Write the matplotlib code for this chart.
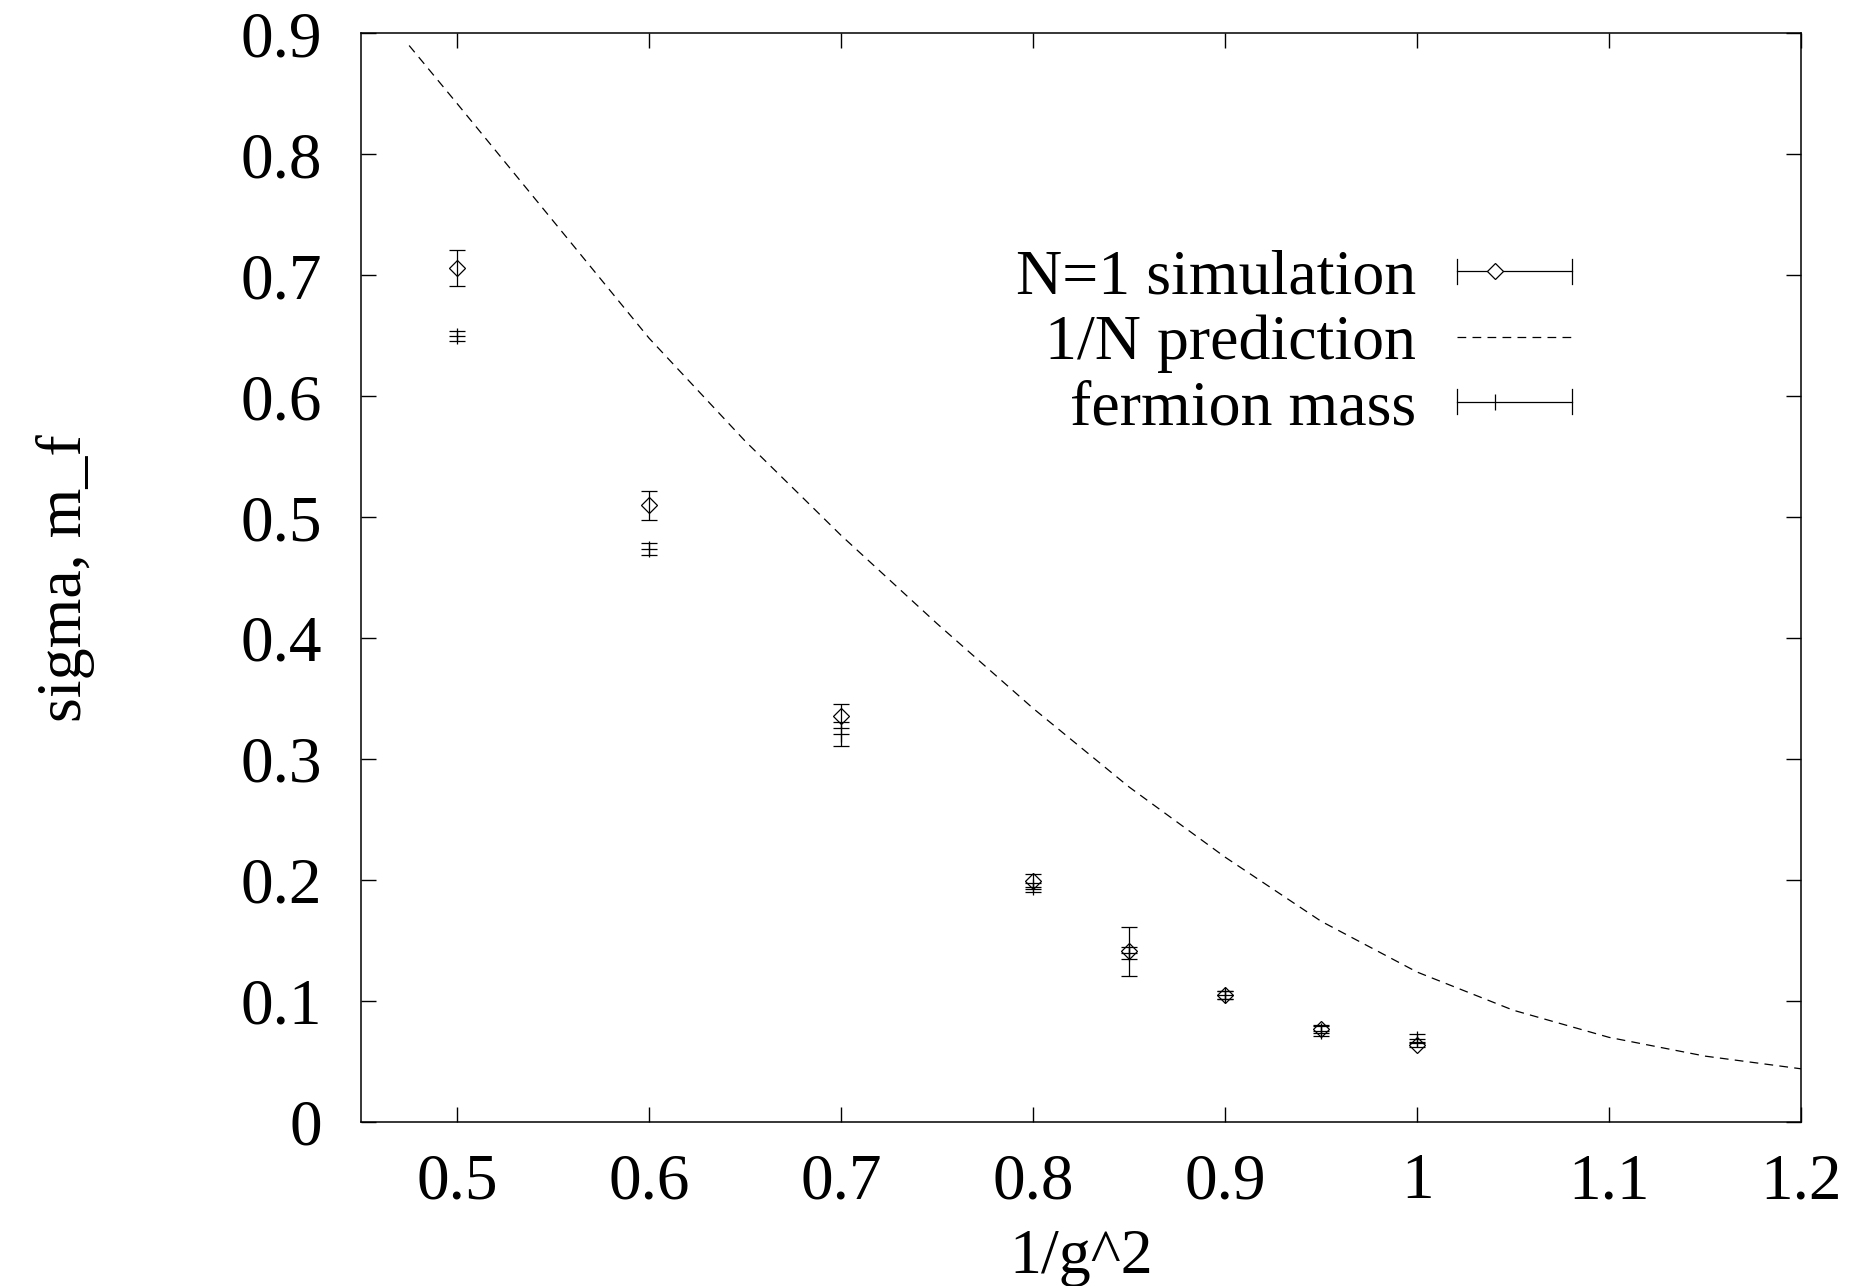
import matplotlib
matplotlib.use('Agg')
import matplotlib.pyplot as plt
from matplotlib.legend_handler import HandlerBase
from matplotlib.lines import Line2D

# N=1 simulation (sigma) with errors
g_inv = [0.5, 0.6, 0.7, 0.8, 0.85, 0.9, 0.95, 1.0]
sigma = [0.706, 0.510, 0.336, 0.199, 0.141, 0.105, 0.077, 0.064]
sigma_err = [0.015, 0.012, 0.010, 0.006, 0.020, 0.003, 0.003, 0.002]

# fermion mass with errors
m_f = [0.650, 0.474, 0.321, 0.194, 0.140, 0.105, 0.075, 0.069]
m_f_err = [0.004, 0.005, 0.010, 0.004, 0.005, 0.003, 0.004, 0.004]

# 1/N prediction curve
pred_x = [0.475, 0.5, 0.55, 0.6, 0.65, 0.7, 0.75, 0.8, 0.85, 0.9, 0.95, 1.0, 1.05, 1.1, 1.15, 1.2]
pred_y = [0.890, 0.842, 0.745, 0.648, 0.563, 0.485, 0.412, 0.342, 0.277, 0.219, 0.166, 0.124,
          0.0925, 0.070, 0.0545, 0.044]

xticks = [0.5, 0.6, 0.7, 0.8, 0.9, 1.0, 1.1, 1.2]
xticklabels = ['0.5', '0.6', '0.7', '0.8', '0.9', '1', '1.1', '1.2']
yticks = [0, 0.1, 0.2, 0.3, 0.4, 0.5, 0.6, 0.7, 0.8, 0.9]
yticklabels = ['0', '0.1', '0.2', '0.3', '0.4', '0.5', '0.6', '0.7', '0.8', '0.9']


class ErrSample(HandlerBase):
    """gnuplot-like legend sample: horizontal bar with end caps and a point"""
    def __init__(self, marker, ms):
        super().__init__()
        self.marker = marker
        self.ms = ms

    def create_artists(self, legend, orig_handle, xdescent, ydescent,
                       width, height, fontsize, trans):
        y = height / 2 - ydescent
        x0, x1 = -xdescent, width - xdescent
        h = 0.2 * fontsize
        arts = [
            Line2D([x0, x1], [y, y], color='black', lw=0.9),
            Line2D([x0, x0], [y - h, y + h], color='black', lw=0.9),
            Line2D([x1, x1], [y - h, y + h], color='black', lw=0.9),
            Line2D([x0 + (x1 - x0) / 3], [y], marker=self.marker, ms=self.ms,
                   mfc='white', mec='black', mew=0.9, color='black'),
        ]
        for a in arts:
            a.set_transform(trans)
        return arts


plt.rcParams['font.family'] = ['Liberation Serif', 'DejaVu Serif']

fig = plt.figure(figsize=(18.52, 12.86), dpi=100)
ax = fig.add_axes([0.195, 0.1275, 0.7775, 0.8465])

e1 = ax.errorbar(g_inv, sigma, yerr=sigma_err, fmt='D', ms=8.5, mfc='none', mec='black',
                 mew=0.9, ecolor='black', elinewidth=0.9, capsize=5.8, capthick=0.9,
                 label='N=1 simulation')
l2, = ax.plot(pred_x, pred_y, color='black', lw=0.9, dashes=(7, 5), label='1/N prediction')
e3 = ax.errorbar(g_inv, m_f, yerr=m_f_err, fmt='+', ms=11.5, mec='black', mew=0.9,
                 ecolor='black', elinewidth=0.9, capsize=5.8, capthick=0.9,
                 label='fermion mass')

ax.set_xlim(0.45, 1.2)
ax.set_ylim(0, 0.9)
ax.set_xticks(xticks)
ax.set_xticklabels(xticklabels)
ax.set_yticks(yticks)
ax.set_yticklabels(yticklabels)
ax.tick_params(direction='in', length=11, width=1.0, top=True, right=True, labelsize=47)
ax.tick_params(axis='y', pad=28)
ax.tick_params(axis='x', pad=22)
for s in ax.spines.values():
    s.set_linewidth(1.1)

ax.set_xlabel('1/g^2', fontsize=46)
ax.set_ylabel('sigma, m_f', fontsize=46)
ax.xaxis.set_label_coords(0.5, -0.098)
ax.yaxis.set_label_coords(-0.185, 0.5)

ax.legend([e1, l2, e3], ['N=1 simulation', '1/N prediction', 'fermion mass'],
          handler_map={e1: ErrSample('D', 8.5), e3: ErrSample('|', 11)},
          loc='upper right', bbox_to_anchor=(0.872, 0.843), frameon=False,
          markerfirst=False, fontsize=46, handlelength=1.8, handletextpad=0.64,
          labelspacing=0.1, borderpad=0.2)

plt.savefig('out.png', dpi=100)
